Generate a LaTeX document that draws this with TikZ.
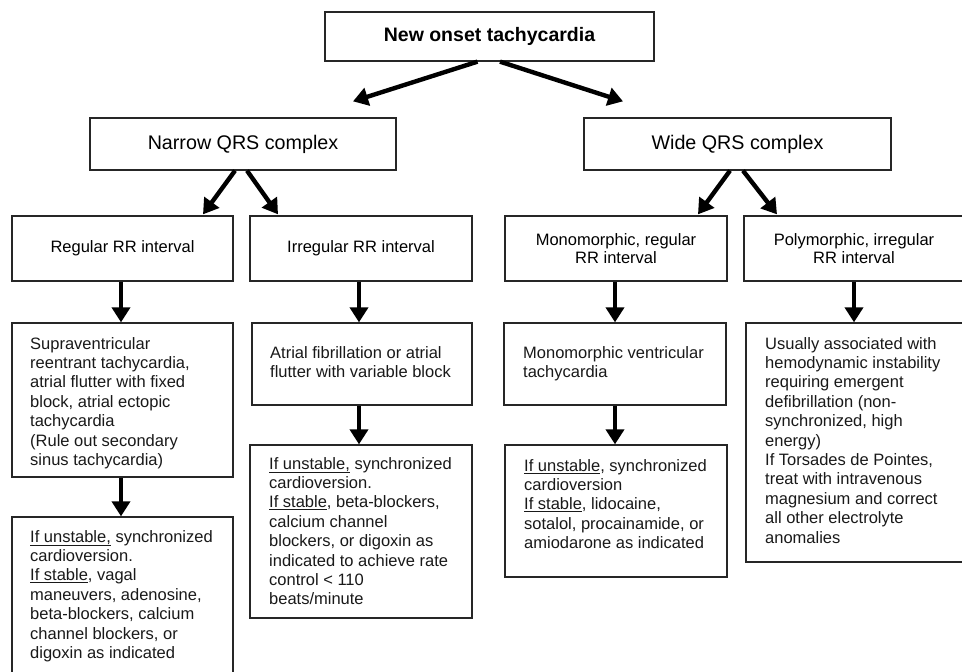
\documentclass[tikz,border=0pt]{standalone}
\usepackage{fontspec}
\setmainfont{Liberation Sans}
\usetikzlibrary{arrows.meta,calc}
\tikzset{
  box/.style={draw=black!85, line width=1.3pt, rectangle, inner sep=0pt},
  lvlthree/.style={font=\fontsize{16.5}{18.5}\selectfont, align=center},
  body/.style={anchor=north west, inner sep=0pt, align=left, text=black!90, font=\fontsize{16.5}{19.4}\selectfont},
  arr/.style={line width=4.4pt, -{Triangle[width=18pt,length=15pt]}, black},
}
\begin{document}
\begin{tikzpicture}[x=1pt,y=-1pt]
\useasboundingbox (0,0) rectangle (962,672);
\clip (0,0) rectangle (962,672);
\fill[white] (0,0) rectangle (962,672);

% level 1
\node[box, minimum width=329pt, minimum height=49pt, font=\bfseries\fontsize{19.5}{22}\selectfont] (top) at (489.5,36.5) {New onset tachycardia};

% level 2
\node[box, minimum width=306pt, minimum height=52pt, font=\fontsize{19.7}{22}\selectfont] (narrow) at (243,144) {Narrow QRS complex};
\node[box, minimum width=307pt, minimum height=52pt, font=\fontsize{19.7}{22}\selectfont] (wide) at (737.5,144) {Wide QRS complex};

% level 3
\node[box, lvlthree, minimum width=221pt, minimum height=65pt] (reg) at (122.5,248.5) {Regular RR interval};
\node[box, lvlthree, minimum width=222pt, minimum height=65pt] (irr) at (361,248.5) {Irregular RR interval};
\node[box, lvlthree, minimum width=222pt, minimum height=65pt] (mono) at (616,248.5) {Monomorphic, regular\\RR interval};
\node[box, minimum width=231pt, minimum height=65pt] (poly) at (859.5,248.5) {};
\node[lvlthree] (polytext) at (854,248.5) {Polymorphic, irregular\\RR interval};

% level 4 boxes
\node[box, minimum width=221pt, minimum height=154pt] (regfour) at (122.5,400) {};
\node[box, minimum width=220pt, minimum height=82pt] (irrfour) at (362,364) {};
\node[box, minimum width=222pt, minimum height=82pt] (monofour) at (615,364) {};
\node[box, minimum width=229pt, minimum height=239pt] (polyfour) at (860.5,442.5) {};

% level 5 boxes
\node[box, minimum width=221pt, minimum height=200pt] (regfive) at (122.5,617) {};
\node[box, minimum width=222pt, minimum height=173pt] (irrfive) at (361,531.5) {};
\node[box, minimum width=222pt, minimum height=132pt] (monofive) at (616,511) {};

% level 4 texts
\node[body] (regfourtext) at (30,337) {Supraventricular\\reentrant tachycardia,\\atrial flutter with fixed\\block, atrial ectopic\\tachycardia\\(Rule out secondary\\sinus tachycardia)};
\node[body] (irrfourtext) at (270,346) {Atrial fibrillation or atrial\\flutter with variable block};
\node[body] (monofourtext) at (523,346) {Monomorphic ventricular\\tachycardia};
\node[body] (polyfourtext) at (765,337) {Usually associated with\\hemodynamic instability\\requiring emergent\\defibrillation (non-\\synchronized, high\\energy)\\If Torsades de Pointes,\\treat with intravenous\\magnesium and correct\\all other electrolyte\\anomalies};

% level 5 texts
\node[body] (regfivetext) at (30,530) {\underline{If unstable,} synchronized\\cardioversion.\\\underline{If stable}, vagal\\maneuvers, adenosine,\\beta-blockers, calcium\\channel blockers, or\\digoxin as indicated};
\node[body] (irrfivetext) at (269,457) {\underline{If unstable,} synchronized\\cardioversion.\\\underline{If stable}, beta-blockers,\\calcium channel\\blockers, or digoxin as\\indicated to achieve rate\\control < 110\\beats/minute};
\node[body] (monofivetext) at (524,459) {\underline{If unstable}, synchronized\\cardioversion\\\underline{If stable}, lidocaine,\\sotalol, procainamide, or\\amiodarone as indicated};

% arrows
\draw[arr] ($(top.south)+(-12,0)$) -- ($(narrow.north)+(110,-16)$);
\draw[arr] ($(top.south)+(10.5,0)$) -- ($(wide.north)+(-114.5,-16)$);
\draw[arr] ($(narrow.south)+(-8,0)$) -- ($(reg.north)+(80.5,-1)$);
\draw[arr] ($(narrow.south)+(4,0)$) -- ($(irr.north)+(-83,-1)$);
\draw[arr] ($(wide.south)+(-7.5,0)$) -- ($(mono.north)+(82,-1)$);
\draw[arr] ($(wide.south)+(5.5,0)$) -- ($(poly.north)+(-82.5,-1)$);

\draw[arr] ($(reg.south)+(-1.5,0)$) -- ($(regfour.north)+(-1.5,0)$);
\draw[arr] ($(irr.south)+(-2,0)$) -- ($(irrfour.north)+(-3,0)$);
\draw[arr] ($(mono.south)+(-1,0)$) -- (monofour.north);
\draw[arr] ($(poly.south)+(-5.5,0)$) -- ($(polyfour.north)+(-6.5,0)$);

\draw[arr] ($(regfour.south)+(-1.5,0)$) -- ($(regfive.north)+(-1.5,0)$);
\draw[arr] ($(irrfour.south)+(-3,0)$) -- ($(irrfive.north)+(-2,0)$);
\draw[arr] (monofour.south) -- ($(monofive.north)+(-1,0)$);
\end{tikzpicture}
\end{document}
